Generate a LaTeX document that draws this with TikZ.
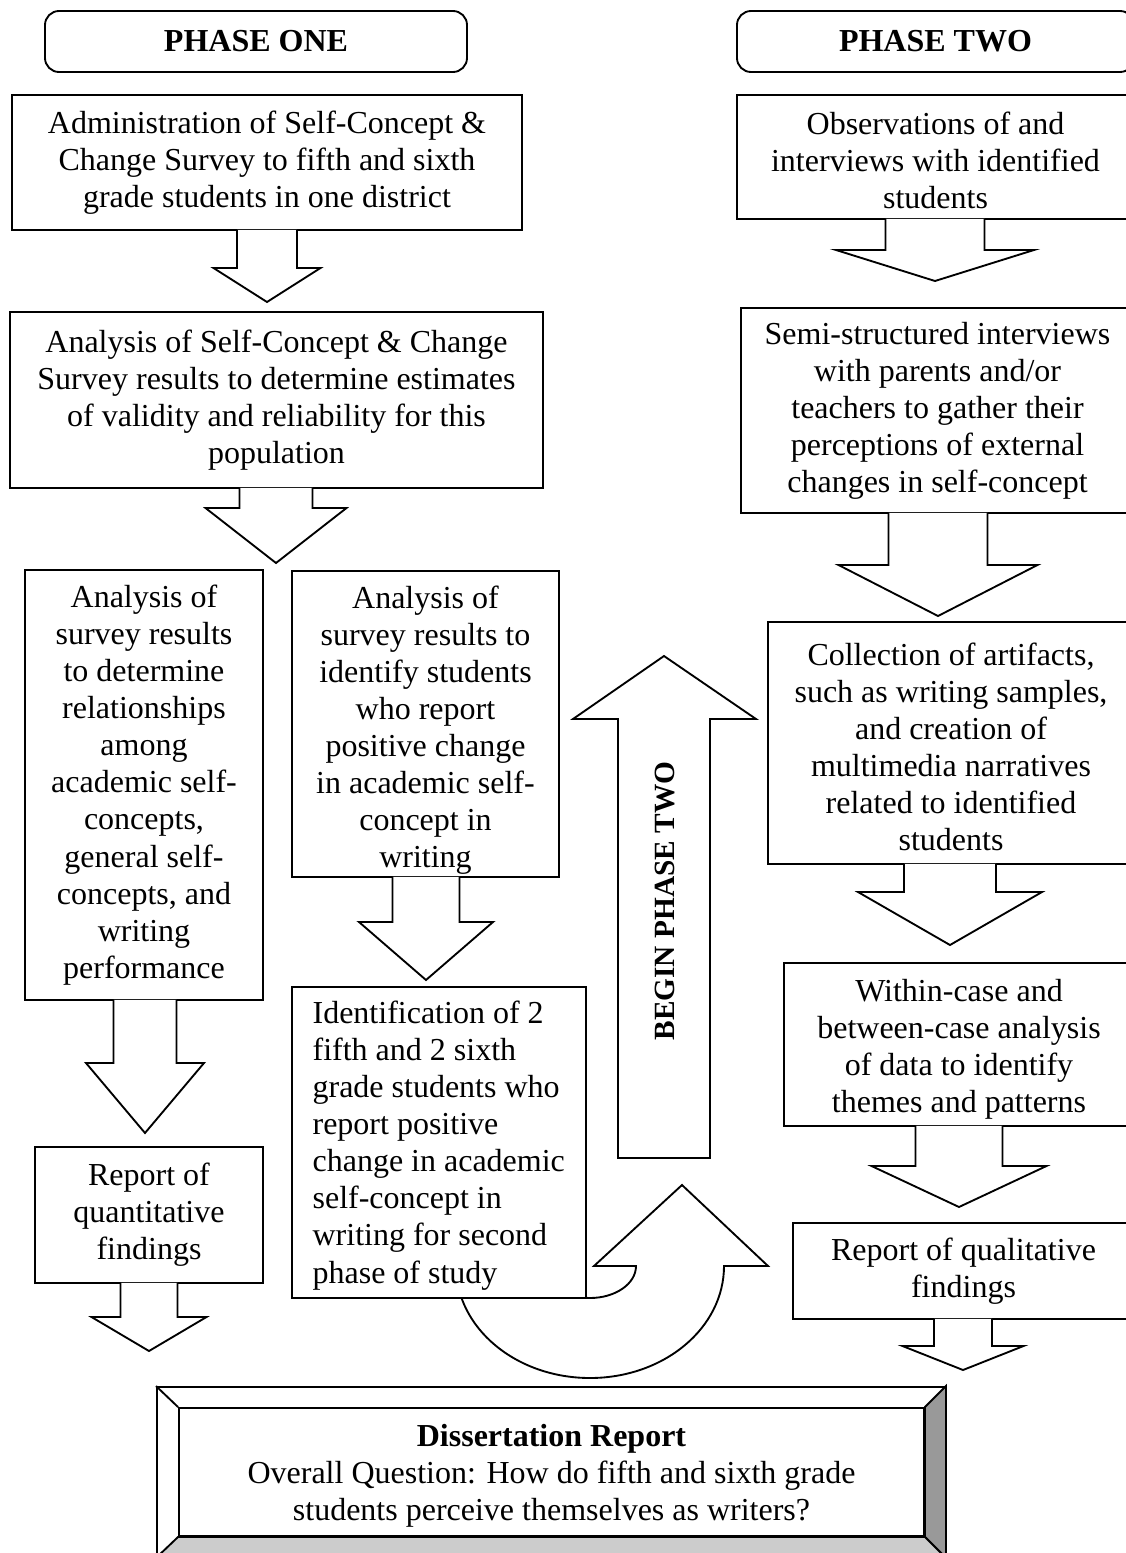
\documentclass[tikz,border=0pt]{standalone}
\usepackage{fontspec}
\setmainfont{Liberation Serif}
\usetikzlibrary{calc, fit}

% block arrow pointing down out of a box: box, tip, shaft half width, head half width, head length
\newcommand{\blockdown}[5]{%
  \draw[blockarrow] ($(#2 |- #1.south)+(-#3,-1)$) |- ($(#2)+(-#4,-#5)$) -- (#2)
     -- ($(#2)+(#4,-#5)$) -| ($(#2 |- #1.south)+(#3,-1)$);}

\begin{document}
\begin{tikzpicture}[
   x=0.375pt, y=-0.375pt,
   box/.style={draw, fill=white, line width=0.7pt, inner sep=0pt},   % step frames
   phasebox/.style={box, rounded corners=5.25pt},                    % phase headings
   boxtext/.style={inner sep=0pt, align=center, font=\fontsize{12}{13.9}\selectfont},
   phasetext/.style={inner sep=0pt, font=\fontsize{12}{14}\selectfont\bfseries},
   blockarrow/.style={draw, fill=white, line width=0.7pt},
   bevel/.style={draw, line width=0.7pt}
]

% page frame (pixel grid of the reference)
\useasboundingbox[fill=white] (0,0) rectangle (1125,1553);

% --- headings
\node[phasebox, fit={(45,11) (467,72)}] (phaseone) {};
\node[phasetext] (phaseonetxt) at (phaseone.center) {PHASE ONE};
\node[phasebox, fit={(737,11) (1134,72)}] (phasetwo) {};
\node[phasetext] (phasetwotxt) at (phasetwo.center) {PHASE TWO};

% --- phase one, left side
\node[box, fit={(12,95) (522,230)}] (admin) {};
\node[boxtext] (admintxt) at (admin.center)
   {Administration of Self-Concept \&\\ Change Survey to fifth and sixth\\ grade students in one district};
\node[box, fit={(10,312) (543,488)}] (validity) {};
\node[boxtext] (validitytxt) at (validity.center)
   {Analysis of Self-Concept \& Change\\ Survey results to determine estimates\\ of validity and reliability for this\\ population};
\node[box, fit={(25,570) (263,1000)}] (relations) {};
\node[boxtext] (relationstxt) at (relations.center)
   {Analysis of\\ survey results\\ to determine\\ relationships\\ among\\ academic self-\\ concepts,\\ general self-\\ concepts, and\\ writing\\ performance};
\node[box, fit={(292,571) (559,877)}] (identify) {};
\node[boxtext] (identifytxt) at ($(identify.center)+(0,6)$)
   {Analysis of\\ survey results to\\ identify students\\ who report\\ positive change\\ in academic self-\\ concept in\\ writing};
\node[box, fit={(35,1147) (263,1283)}] (quant) {};
\node[boxtext] (quanttxt) at (quant.center) {Report of\\ quantitative\\ findings};

% --- curved arrow under the selection box (drawn first, the box hides its left end)
\draw[blockarrow] (724,1266) .. controls (724,1328) and (664,1378) .. (590,1378)
   .. controls (516,1378) and (456,1328) .. (456,1266) -- (544,1266)
   .. controls (544,1284) and (565,1298) .. (590,1298)
   .. controls (615,1298) and (636,1284) .. (636,1266)
   -- (594,1266) -- (682,1185) -- (768,1266) -- cycle;

\node[box, fit={(292,987) (586,1298)}] (selected) {};
\node[boxtext, align=left, anchor=west] (selectedtxt) at ($(selected.west)+(21,3)$)
   {Identification of 2\\ fifth and 2 sixth\\ grade students who\\ report positive\\ change in academic\\ self-concept in\\ writing for second\\ phase of study};

% --- big arrow to phase two
\draw[blockarrow] (618,1158) -- (618,719) -- (573,719) -- (664,656) -- (756,719)
   -- (710,719) -- (710,1158) -- cycle;
\node[rotate=90, font=\fontsize{11}{13}\selectfont\bfseries] (beginlbl) at (665,901) {BEGIN PHASE TWO};

% --- phase two, right side
\node[box, fit={(737,95) (1134,219)}] (observe) {};
\node[boxtext] (observetxt) at ($(observe.center)+(0,3)$)
   {Observations of and\\ interviews with identified\\ students};
\node[box, fit={(741,308) (1134,513)}] (parents) {};
\node[boxtext] (parentstxt) at (parents.center)
   {Semi-structured interviews\\ with parents and/or\\ teachers to gather their\\ perceptions of external\\ changes in self-concept};
\node[box, fit={(768,622) (1134,864)}] (artifacts) {};
\node[boxtext] (artifactstxt) at ($(artifacts.center)+(0,4)$)
   {Collection of artifacts,\\ such as writing samples,\\ and creation of\\ multimedia narratives\\ related to identified\\ students};
\node[box, fit={(784,963) (1134,1126)}] (crosscase) {};
\node[boxtext] (crosscasetxt) at ($(crosscase.center)+(0,5)$)
   {Within-case and\\ between-case analysis\\ of data to identify\\ themes and patterns};
\node[box, fit={(793,1223) (1134,1319)}] (qual) {};
\node[boxtext] (qualtxt) at (qual.center) {Report of qualitative\\ findings};

% --- dissertation frame with bevel
\node[box, fit={(157,1387) (945,1557)}] (dissframe) {};
\node[box, fit={(179,1408) (924,1536)}] (diss) {};
\node[boxtext] (disstxt) at ($(diss.center)+(0,4)$)
   {\textbf{Dissertation Report}\\ Overall Question: How do fifth and sixth grade\\ students perceive themselves as writers?};
\filldraw[bevel, fill=black!40] (diss.north east) -- (dissframe.north east)
   -- (dissframe.south east) -- (diss.south east) -- cycle;
\filldraw[bevel, fill=black!20] (diss.south west) -- (diss.south east)
   -- (dissframe.south east) -- (dissframe.south west) -- cycle;
\draw[bevel] (dissframe.north west) -- (diss.north west);

% --- arrow tips
\coordinate (tipA1) at (267,302);
\coordinate (tipA2) at (276,563);
\coordinate (tipA3) at (145,1133);
\coordinate (tipA4) at (426,980);
\coordinate (tipA5) at (149,1351);
\coordinate (tipB1) at (935,281);
\coordinate (tipB2) at (938,616);
\coordinate (tipB3) at (950,945);
\coordinate (tipB4) at (959,1207);
\coordinate (tipB5) at (963,1370);

% --- block arrows
\blockdown{admin}{tipA1}{30}{53.5}{34}
\blockdown{validity}{tipA2}{36.5}{70.5}{55}
\blockdown{relations}{tipA3}{31.5}{59}{70}
\blockdown{identify}{tipA4}{33.5}{67}{58}
\blockdown{quant}{tipA5}{28.5}{57.5}{34}
\blockdown{observe}{tipB1}{49.5}{99}{31}
\blockdown{parents}{tipB2}{49.5}{99.5}{51}
\blockdown{artifacts}{tipB3}{46}{92}{53}
\blockdown{crosscase}{tipB4}{43.5}{87.5}{41}
\blockdown{qual}{tipB5}{29}{60.5}{24}

\end{tikzpicture}
\end{document}
